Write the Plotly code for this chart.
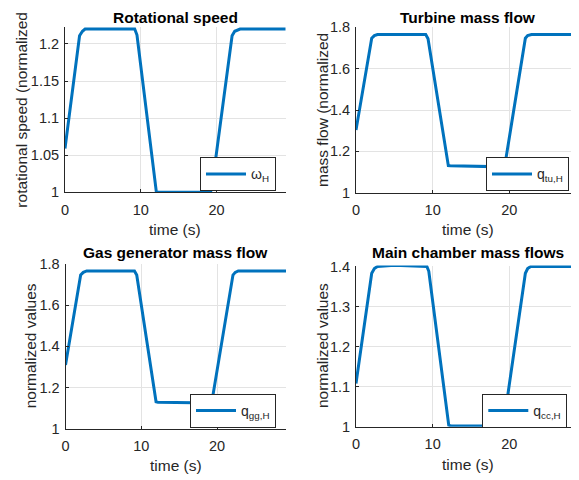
import plotly.graph_objects as go

# ---- data ----
t_speed = [0.0, 1.92, 2.3, 2.65, 9.2, 9.5, 12.05, 12.3, 19.2, 19.4, 22.05, 22.4, 23.1, 29.2]
speed = [1.059, 1.211, 1.217, 1.220, 1.220, 1.212, 1.001, 1.0, 1.0, 1.008, 1.211, 1.217, 1.220, 1.220]

t_tu = [0.0, 2.05, 2.4, 2.8, 9.1, 9.4, 12.05, 12.3, 19.3, 19.5, 22.1, 22.4, 22.9, 29.2]
q_tu = [1.303, 1.747, 1.760, 1.765, 1.765, 1.745, 1.131, 1.130, 1.125, 1.150, 1.747, 1.760, 1.765, 1.765]

t_gg = [0.0, 2.0, 2.35, 2.8, 9.1, 9.4, 11.95, 12.2, 19.2, 19.4, 22.1, 22.4, 22.8, 29.2]
q_gg = [1.310, 1.745, 1.758, 1.765, 1.765, 1.745, 1.132, 1.130, 1.126, 1.150, 1.745, 1.758, 1.765, 1.765]

t_cc = [0.0, 2.05, 2.4, 2.8, 5.0, 9.25, 9.5, 12.1, 12.4, 19.1, 19.3, 22.1, 22.4, 22.8, 29.2]
q_cc = [1.108, 1.383, 1.395, 1.400, 1.403, 1.400, 1.388, 1.004, 1.002, 1.002, 1.012, 1.383, 1.395, 1.400, 1.400]

titles = ["Rotational speed", "Turbine mass flow", "Gas generator mass flow", "Main chamber mass flows"]
ylabels = ["rotational speed (normalized", "mass flow (normalized", "normalized values", "normalized values"]
legend_names = ["ω<sub>H</sub>", "q<sub>tu,H</sub>", "q<sub>gg,H</sub>", "q<sub>cc,H</sub>"]
x_ticks = [0, 10, 20]
y_ticks = [
    [1, 1.05, 1.1, 1.15, 1.2],
    [1, 1.2, 1.4, 1.6, 1.8],
    [1, 1.2, 1.4, 1.6, 1.8],
    [1, 1.1, 1.2, 1.3, 1.4],
]
y_ranges = [[1, 1.2228], [1, 1.8], [1, 1.8], [1, 1.4025]]

W, H = 579, 480
OFF = 8  # the page body margin shifts the figure by this many pixels
LINE = "#0072BD"
TXT = "#262626"
FONT = "Liberation Sans, Arial, Helvetica, sans-serif"


def px(sx):
    return (sx - OFF) / W


def py(sy):
    return 1 - (sy - OFF) / H


# screen-pixel layout (left, right, top, bottom) for each axes
boxes = [
    (65, 285.5, 27, 192.3),
    (356, 579, 27.3, 192.7),
    (65.5, 286, 263.7, 429),
    (356, 579, 265.5, 426.7),
]
ylab_x = [22, 322, 30, 322]
title_y = [17.5, 17.5, 252, 252]
xlab_y = [229, 229, 465, 464]
legend_pos = [(276, 157.3), (569, 157.3), (276, 394), (567.3, 394)]

series = [(t_speed, speed), (t_tu, q_tu), (t_gg, q_gg), (t_cc, q_cc)]

fig = go.Figure()
annotations = []
layout = dict(
    width=W, height=H,
    margin=dict(l=0, r=0, t=0, b=0, pad=0, autoexpand=False),
    paper_bgcolor="white", plot_bgcolor="white",
    font=dict(family=FONT, color=TXT, size=14),
    showlegend=True,
)

for i in range(4):
    n = "" if i == 0 else str(i + 1)
    x0, x1, y0, y1 = boxes[i]
    lg = "legend" if i == 0 else f"legend{i + 1}"
    t, v = series[i]
    fig.add_trace(go.Scatter(
        x=t, y=v, mode="lines", name=legend_names[i],
        line=dict(color=LINE, width=3),
        xaxis="x" + n, yaxis="y" + n, legend=lg,
    ))
    layout["xaxis" + n] = dict(
        domain=[px(x0), px(x1)], anchor="y" + n,
        range=[0, 29.1], tickvals=x_ticks, ticktext=[str(v) for v in x_ticks],
        showgrid=True, gridcolor="#e3e3e3", gridwidth=1,
        showline=True, linecolor=TXT, linewidth=1,
        ticks="inside", ticklen=3, tickcolor=TXT,
        zeroline=False, tickfont=dict(size=14.5, color=TXT, family=FONT),
        ticklabelstandoff=4, automargin=False,
    )
    layout["yaxis" + n] = dict(
        domain=[py(y1), py(y0)], anchor="x" + n,
        range=y_ranges[i], tickvals=y_ticks[i],
        ticktext=[f"{v:g}" for v in y_ticks[i]],
        showgrid=True, gridcolor="#e3e3e3", gridwidth=1,
        showline=True, linecolor=TXT, linewidth=1,
        ticks="inside", ticklen=3, tickcolor=TXT,
        zeroline=False, tickfont=dict(size=14.5, color=TXT, family=FONT),
        ticklabelstandoff=2, automargin=False,
    )
    lx, ly = legend_pos[i]
    layout[lg] = dict(
        x=px(lx), y=py(ly), xanchor="right", yanchor="top",
        xref="paper", yref="paper",
        bgcolor="white", bordercolor=TXT, borderwidth=1,
        font=dict(size=14, color=TXT, family=FONT),
        itemwidth=40,
    )
    cx = px((x0 + x1) / 2)
    annotations.append(dict(
        text=f"<b>{titles[i]}</b>", x=cx, y=py(title_y[i]),
        xref="paper", yref="paper", xanchor="center", yanchor="middle",
        showarrow=False, borderpad=0,
        font=dict(size=15.5, color="black", family=FONT),
    ))
    annotations.append(dict(
        text="time (s)", x=cx, y=py(xlab_y[i]),
        xref="paper", yref="paper", xanchor="center", yanchor="middle",
        showarrow=False, borderpad=0,
        font=dict(size=15.5, color=TXT, family=FONT),
    ))
    annotations.append(dict(
        text=ylabels[i], x=px(ylab_x[i]), y=py((y0 + y1) / 2),
        xref="paper", yref="paper", xanchor="center", yanchor="middle",
        textangle=-90, showarrow=False, borderpad=0,
        font=dict(size=15.5, color=TXT, family=FONT),
    ))

layout["annotations"] = annotations
fig.update_layout(**layout)
fig.write_html("out.html")
